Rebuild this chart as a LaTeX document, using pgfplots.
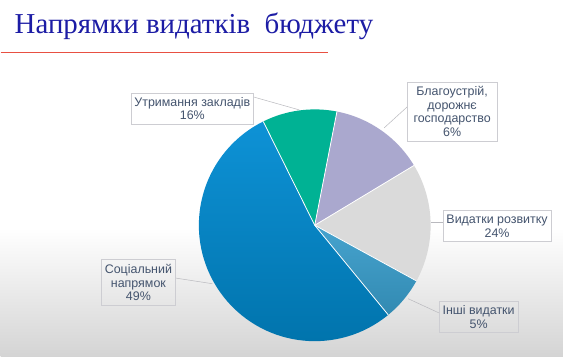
\documentclass[border=0pt]{standalone}
\usepackage{pgfplots}
\pgfplotsset{compat=1.18}
\usepackage{pgfplotstable}
\usepackage{fontspec}
\setmainfont{Liberation Sans}
\newfontfamily\titlefont{Liberation Serif}
\definecolor{cGreen}{RGB}{0,178,148}
\definecolor{cLav}{RGB}{170,168,206}
\definecolor{cGray}{RGB}{218,218,218}
\definecolor{cTealT}{RGB}{70,163,206}
\definecolor{cTealB}{RGB}{50,138,178}
\definecolor{cBlueT}{RGB}{14,146,214}
\definecolor{cBlueB}{RGB}{0,114,170}
\definecolor{bgGray}{RGB}{212,212,212}
\definecolor{txt}{RGB}{68,84,110}
\definecolor{boxGray}{RGB}{205,205,210}
\definecolor{lineGray}{RGB}{185,185,190}
\definecolor{titleBlue}{RGB}{28,28,165}
\definecolor{redLine}{RGB}{232,80,66}
\pgfplotstableread{
label value top bottom
Utrymannia 10.4 cGreen cGreen
Blahoustrii 13.3 cLav cLav
Rozvytok 16.6 cGray cGray
Inshi 6.1 cTealT cTealB
Sotsialnyi 53.6 cBlueT cBlueB
}\slices
\begin{document}
\begin{tikzpicture}
\begin{axis}[scale only axis, width=563bp, height=357bp,
  xmin=0, xmax=563, ymin=0, ymax=357, hide axis, clip=false]
\fill[white] (axis cs:0,128) rectangle (axis cs:563,357);
\shade[top color=white, bottom color=bgGray] (axis cs:0,0) rectangle (axis cs:563,128.5);
\pgfmathsetmacro{\cura}{116.4}
\global\let\cura\cura
\pgfplotsinvokeforeach{0,...,4}{
  \pgfplotstablegetelem{#1}{value}\of\slices \let\v\pgfplotsretval
  \pgfplotstablegetelem{#1}{top}\of\slices \let\ct\pgfplotsretval
  \pgfplotstablegetelem{#1}{bottom}\of\slices \let\cb\pgfplotsretval
  \pgfmathsetmacro{\nexta}{\cura-3.6*\v}
  \edef\doslice{\noexpand\shade[top color=\ct, bottom color=\cb] (axis cs:314.5,131.5) -- ++(\cura:116bp) arc[start angle=\cura, end angle=\nexta, radius=116bp] -- cycle;}
  \doslice
  \global\let\cura\nexta
}
\pgfmathsetmacro{\cura}{116.4}
\global\let\cura\cura
\pgfplotsinvokeforeach{0,...,4}{
  \pgfplotstablegetelem{#1}{value}\of\slices \let\v\pgfplotsretval
  \pgfmathsetmacro{\nexta}{\cura-3.6*\v}
  \edef\doline{\noexpand\draw[white, line width=0.8pt] (axis cs:314.5,131.5) -- ++(\cura:116bp);}
  \doline
  \global\let\cura\nexta
}
% leader lines
\draw[lineGray, line width=0.5pt] (axis cs:253,260) -- (axis cs:299,247);
\draw[lineGray, line width=0.5pt] (axis cs:407,250) -- (axis cs:384,229);
\draw[lineGray, line width=0.5pt] (axis cs:431,135) -- (axis cs:443,135);
\draw[lineGray, line width=0.5pt] (axis cs:175,78.7) -- (axis cs:212,73);
\draw[lineGray, line width=0.5pt] (axis cs:408,58) -- (axis cs:439,43.7);
% labels
\tikzset{lbl/.style={draw=boxGray, line width=0.6pt, text=txt, align=center,
  font=\fontsize{12.5}{13.5}\selectfont, inner sep=0pt}}
\node[lbl, minimum width=122bp, minimum height=31bp] at (axis cs:192,248.5) {Утримання закладів\\16\%};
\node[lbl, minimum width=90bp, minimum height=59bp] at (axis cs:452,245.5) {Благоустрій,\\дорожнє\\господарство\\6\%};
\node[lbl, fill=white, minimum width=108bp, minimum height=31bp] at (axis cs:497,130.5) {Видатки розвитку\\24\%};
\node[lbl, minimum width=74bp, minimum height=46bp] at (axis cs:138,74) {Соціальний\\напрямок\\49\%};
\node[lbl, minimum width=79bp, minimum height=31bp] at (axis cs:478.5,39.5) {Інші видатки\\5\%};
% title
\node[anchor=base west, inner sep=0pt, text=titleBlue,
  font=\titlefont\fontsize{29}{31}\selectfont] at (axis cs:14,323) {Напрямки видатків\ \ бюджету};
\draw[redLine, line width=1.1bp] (axis cs:0,304.7) -- (axis cs:328,304.7);
\end{axis}
\end{tikzpicture}
\end{document}
